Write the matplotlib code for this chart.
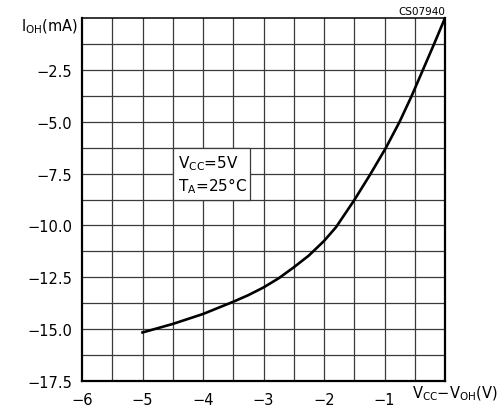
import numpy as np
import matplotlib
matplotlib.use('Agg')
import matplotlib.pyplot as plt
from matplotlib.patches import Rectangle

# curve: Vcc - Voh (V) vs Ioh (mA)
v_diff = [-5.0, -4.5, -4.0, -3.5, -3.25, -3.0, -2.75, -2.5, -2.25, -2.0,
          -1.80, -1.50, -1.24, -0.975, -0.75, -0.55, -0.365, -0.18, 0.0]
i_oh = [-15.16, -14.75, -14.27, -13.68, -13.36, -12.99, -12.55, -12.02, -11.45, -10.75,
        -10.08, -8.78, -7.56, -6.25, -5.0, -3.75, -2.5, -1.25, 0.0]

x_ticks = [-6, -5, -4, -3, -2, -1]
y_ticks = [-2.5, -5.0, -7.5, -10.0, -12.5, -15.0, -17.5]

plt.rcParams['font.family'] = ['DejaVu Sans']
plt.rcParams['mathtext.fontset'] = 'dejavusans'

fig = plt.figure(figsize=(5.03, 4.14), dpi=100)
ax = fig.add_axes([82 / 503, 1 - 382 / 414, 363 / 503, 363 / 414])
ax.set_xlim(-6, 0)
ax.set_ylim(-17.5, 0)

# grid
for gx in np.arange(-5.5, 0, 0.5):
    ax.axvline(gx, color='#3a3a3a', lw=0.9, zorder=1)
for gy in np.arange(-16.25, 0, 1.25):
    ax.axhline(gy, color='#3a3a3a', lw=0.9, zorder=1)

# white box behind the conditions text
ax.add_patch(Rectangle((-4.5, -8.75), 1.28, 2.5, facecolor='white',
                       edgecolor='#3a3a3a', lw=0.9, zorder=2))
ax.text(-4.42, -6.95, r'$\mathregular{V_{CC}}$=5V', fontsize=11, va='center', zorder=3)
ax.text(-4.42, -8.05, r'$\mathregular{T_{A}}$=25°C', fontsize=11, va='center', zorder=3)

ax.plot(v_diff, i_oh, color='black', lw=1.9, zorder=4, solid_joinstyle='round')

ax.set_xticks(x_ticks)
ax.set_xticklabels(['\u2212%d' % abs(v) for v in x_ticks])
ax.set_yticks(y_ticks)
ax.set_yticklabels(['\u2212%.1f' % abs(v) for v in y_ticks])
ax.tick_params(length=0, labelsize=10.5, pad=7)
ax.tick_params(axis='x', pad=8)
for s in ax.spines.values():
    s.set_linewidth(1.6)
ax.spines['top'].set_linewidth(1.1)

fig.text(78 / 503, 1 - 27 / 414, r'$\mathregular{I_{OH}}$(mA)', fontsize=10.5,
         ha='right', va='center')
fig.text(498 / 503, 1 - 394 / 414, r'$\mathregular{V_{CC}}$$-$$\mathregular{V_{OH}}$(V)',
         fontsize=10.5, ha='right', va='center')
fig.text(445 / 503, 1 - 12 / 414, 'CS07940', fontsize=7.5, ha='right', va='center')

fig.savefig('out.png', dpi=100)
